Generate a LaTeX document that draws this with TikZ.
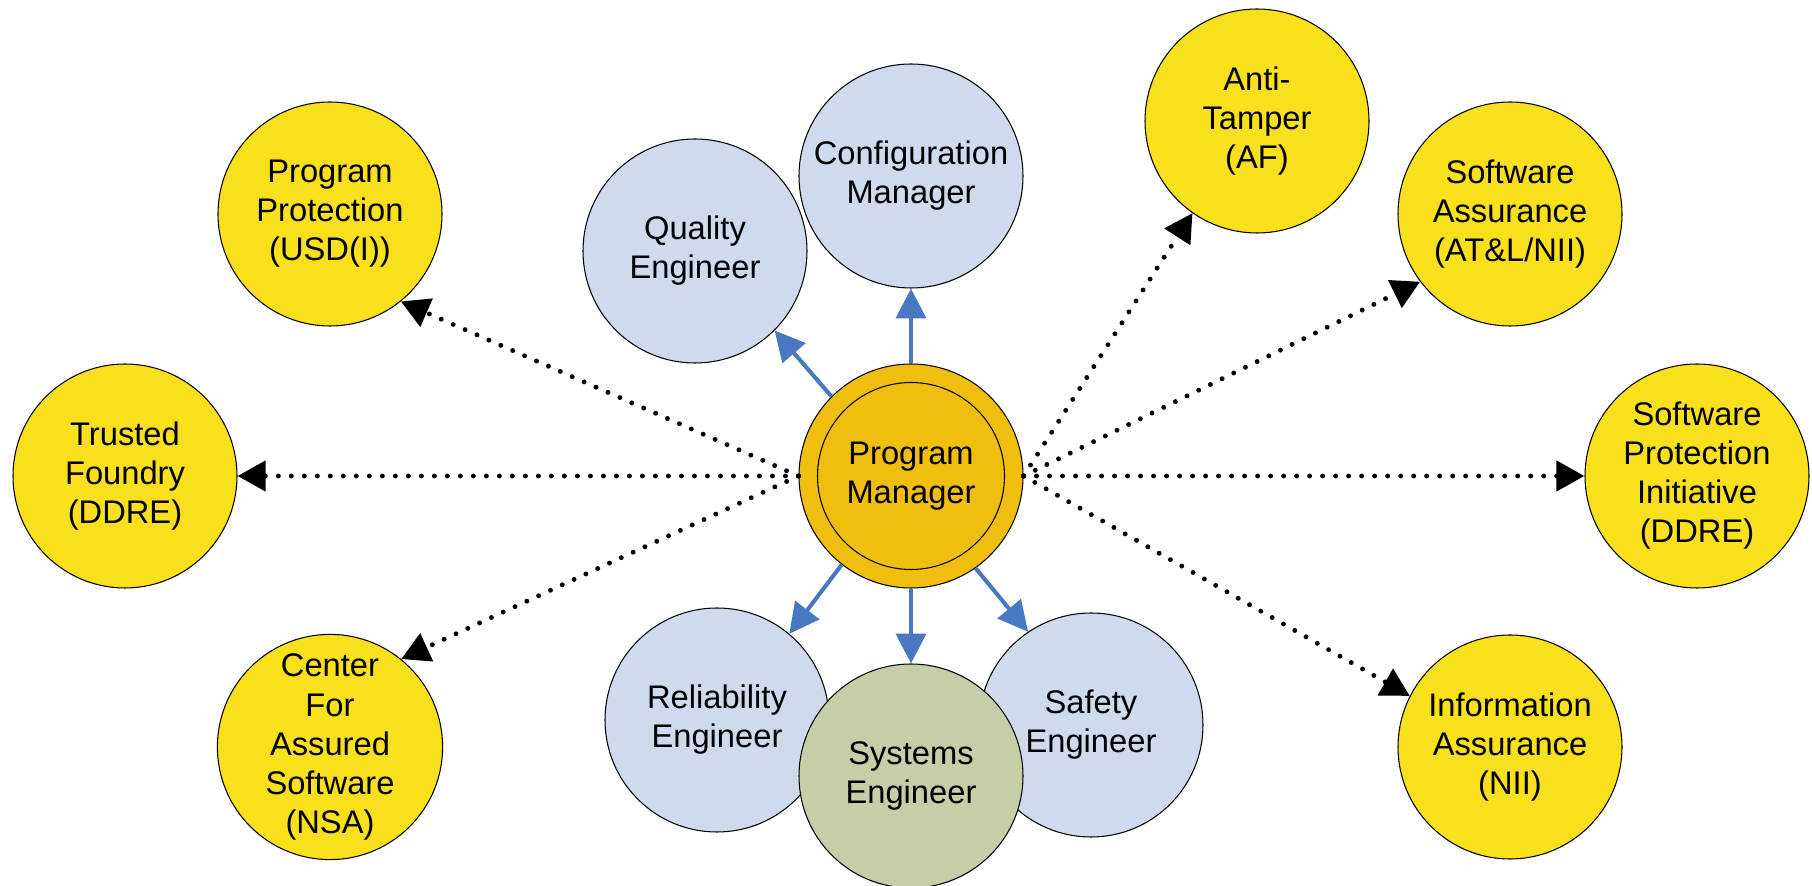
\documentclass[tikz,border=0pt]{standalone}
\usepackage{fontspec}
\setmainfont{Liberation Sans}
\usetikzlibrary{arrows.meta}

\definecolor{sunyellow}{HTML}{F8E01C}
\definecolor{pmgold}{HTML}{F0BE0F}
\definecolor{paleblue}{HTML}{CFDBEC}
\definecolor{sagegreen}{HTML}{C6CEA8}
\definecolor{linkblue}{HTML}{4878C0}

\begin{document}
\begin{tikzpicture}

        \useasboundingbox (0,0) rectangle (18.12,8.86);

        \begin{scope}[every node/.style={circle,draw,line width=0.3pt,minimum size=2.24cm,inner sep=0pt,align=center,font=\fontsize{9.3}{11.1}\selectfont}]
          % outer offices
          \node[fill=sunyellow] (pp)  at (3.30,6.72)  {Program\\Protection\\(USD(I))};
          \node[fill=sunyellow] (tf)  at (1.25,4.10)  {Trusted\\Foundry\\(DDRE)};
          \node[fill=sunyellow] (cas) at (3.30,1.39)  {Center\\For\\Assured\\Software\\(NSA)};
          \node[fill=sunyellow] (at)  at (12.57,7.65) {Anti-\\Tamper\\(AF)};
          \node[fill=sunyellow] (sa)  at (15.10,6.72) {Software\\Assurance\\(AT\&L/NII)};
          \node[fill=sunyellow] (spi) at (16.97,4.10) {Software\\Protection\\Initiative\\(DDRE)};
          \node[fill=sunyellow] (ia)  at (15.10,1.39) {Information\\Assurance\\(NII)};
          % team
          \node[fill=paleblue]  (re)  at (7.17,1.66)  {Reliability\\Engineer};
          \node[fill=paleblue]  (sfe) at (10.91,1.61) {Safety\\Engineer};
          \node[fill=sagegreen] (se)  at (9.11,1.10)  {Systems\\Engineer};
          \node[fill=paleblue]  (qe)  at (6.95,6.35)  {Quality\\Engineer};
          \node[fill=paleblue]  (cm)  at (9.11,7.10)  {Configuration\\Manager};
          \node[fill=pmgold]    (pm)  at (9.11,4.10)  {};
          \node[minimum size=1.87cm] (pmin) at (pm) {Program\\Manager};
        \end{scope}

        \begin{scope}[every edge/.style={draw,linkblue,line width=1.15pt,-{Triangle[length=8.5pt,width=8.5pt]}}]
          \path (pm.135)  edge (qe.-45);
          \path (pm.90)   edge (cm.-90);
          \path (pm.-128) edge (re.50);
          \path (pm.-90)  edge (se.90);
          \path (pm.-55)  edge (sfe.124);
        \end{scope}

        \begin{scope}[every edge/.style={draw,black,line width=1.4pt,line cap=round,dash pattern=on 0pt off 3.7pt,-{Triangle[length=8pt,width=8.5pt]}}]
          \path (pm.west) edge (pp.-51);
          \path (pm.west) edge (tf.east);
          \path (pm.west) edge (cas.51);
          \path (pm.east) edge (at.-125);
          \path (pm.east) edge (sa.217);
          \path (pm.east) edge (spi.west);
          \path (pm.east) edge (ia.153);
        \end{scope}

      \end{tikzpicture}
\end{document}
